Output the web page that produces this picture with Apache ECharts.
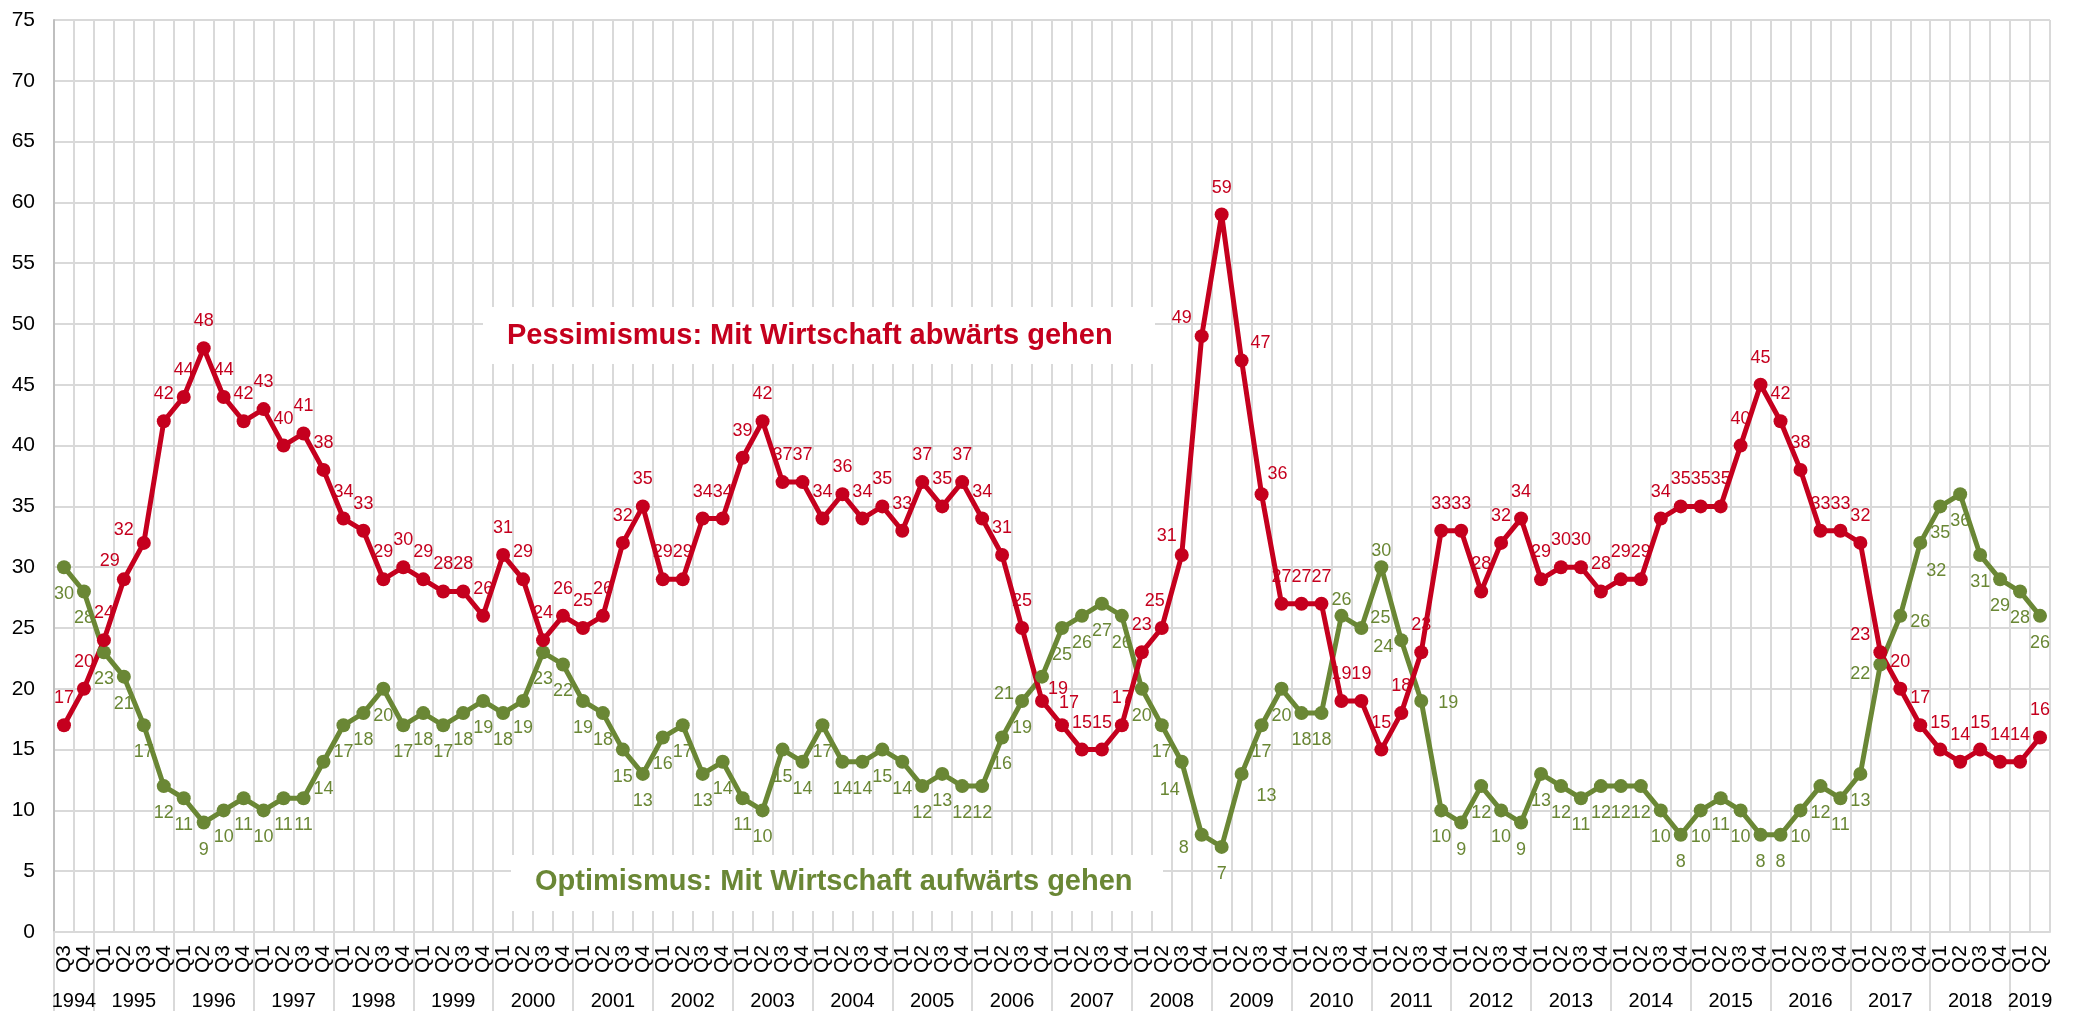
<!DOCTYPE html>
<html>
<head>
<meta charset="utf-8">
<script src="https://cdn.jsdelivr.net/npm/echarts@6/dist/echarts.min.js"></script>
<style>
  html, body { margin: 0; padding: 0; background: #fff; }
  #chart { width: 2075px; height: 1011px; }
</style>
</head>
<body>
<div id="chart"></div>
<script>
// ---- Data ----
const years = ['1994','1995','1996','1997','1998','1999','2000','2001','2002','2003','2004','2005','2006',
               '2007','2008','2009','2010','2011','2012','2013','2014','2015','2016','2017','2018','2019'];

const quarters = [
  'Q3','Q4',
  'Q1','Q2','Q3','Q4', 'Q1','Q2','Q3','Q4', 'Q1','Q2','Q3','Q4', 'Q1','Q2','Q3','Q4',
  'Q1','Q2','Q3','Q4', 'Q1','Q2','Q3','Q4', 'Q1','Q2','Q3','Q4', 'Q1','Q2','Q3','Q4',
  'Q1','Q2','Q3','Q4', 'Q1','Q2','Q3','Q4', 'Q1','Q2','Q3','Q4', 'Q1','Q2','Q3','Q4',
  'Q1','Q2','Q3','Q4', 'Q1','Q2','Q3','Q4', 'Q1','Q2','Q3','Q4', 'Q1','Q2','Q3','Q4',
  'Q1','Q2','Q3','Q4', 'Q1','Q2','Q3','Q4', 'Q1','Q2','Q3','Q4', 'Q1','Q2','Q3','Q4',
  'Q1','Q2','Q3','Q4', 'Q1','Q2','Q3','Q4', 'Q1','Q2','Q3','Q4', 'Q1','Q2','Q3','Q4',
  'Q1','Q2'
];

const pessimismus = [
  17,20,
  24,29,32,42, 44,48,44,42, 43,40,41,38, 34,33,29,30,
  29,28,28,26, 31,29,24,26, 25,26,32,35, 29,29,34,34,
  39,42,37,37, 34,36,34,35, 33,37,35,37, 34,31,25,19,
  17,15,15,17, 23,25,31,49, 59,47,36,27, 27,27,19,19,
  15,18,23,33, 33,28,32,34, 29,30,30,28, 29,29,34,35,
  35,35,40,45, 42,38,33,33, 32,23,20,17, 15,14,15,14,
  14,16
];

const optimismus = [
  30,28,
  23,21,17,12, 11,9,10,11, 10,11,11,14, 17,18,20,17,
  18,17,18,19, 18,19,23,22, 19,18,15,13, 16,17,13,14,
  11,10,15,14, 17,14,14,15, 14,12,13,12, 12,16,19,21,
  25,26,27,26, 20,17,14,8, 7,13,17,20, 18,18,26,25,
  30,24,19,10, 9,12,10,9, 13,12,11,12, 12,12,10,8,
  10,11,10,8, 8,10,12,11, 13,22,26,32, 35,36,31,29,
  28,26
];

const pessTitle = 'Pessimismus: Mit Wirtschaft abwärts gehen';
const optTitle  = 'Optimismus: Mit Wirtschaft aufwärts gehen';

// ---- Label placement tweaks (style only: point index -> [dx, dy] from marker centre) ----
const pessLabelShift = {
  3: [-14, -18], 4: [-20, -13], 49: [16, -12], 50: [7, -22], 55: [-7, -27],
  56: [-15, -19], 57: [-20, -18], 59: [19, -17], 60: [16, -20], 91: [-20, -17]
};
const optLabelShift = {
  49: [-38, 17], 56: [-12, 28], 57: [-18, 13], 59: [25, 22], 64: [0, -16],
  65: [19, -10], 66: [0, -16], 67: [-18, 7], 68: [27, 2], 91: [-20, 10],
  92: [20, 6], 93: [16, 28]
};

// ---- Derived: year grouping in quarter units ----
const yearSpans = [];
(function () {
  let start = 0;
  for (let i = 1; i <= quarters.length; i++) {
    if (i === quarters.length || quarters[i] === 'Q1') {
      yearSpans.push([start, i]);
      start = i;
    }
  }
})();
const yearBoundaries = yearSpans.map(s => s[0]);
const yearCenters = yearSpans.map(s => (s[0] + s[1]) / 2);

const RED = '#C5001E';
const GREEN = '#6A8735';
const GRID = '#d9d9d9';
const FONT = 'Liberation Sans, Arial, sans-serif';
const SYMBOL = 14;

const chart = echarts.init(document.getElementById('chart'), null, { renderer: 'canvas' });

function buildData(values, shifts) {
  return values.map(function (v, i) {
    const s = shifts[i];
    if (!s) return v;
    return {
      value: v,
      label: {
        position: [SYMBOL / 2 + s[0], SYMBOL / 2 + s[1]],
        align: 'center',
        verticalAlign: 'middle'
      }
    };
  });
}

function lineSeries(name, values, shifts, color, pos) {
  return {
    name: name,
    type: 'line',
    data: buildData(values, shifts),
    xAxisIndex: 0,
    yAxisIndex: 0,
    symbol: 'circle',
    symbolSize: SYMBOL,
    lineStyle: { color: color, width: 5 },
    itemStyle: { color: color },
    label: {
      show: true,
      position: pos,
      distance: 11,
      color: color,
      fontSize: 18,
      fontFamily: FONT
    },
    labelLayout: { hideOverlap: false },
    animation: false
  };
}

chart.setOption({
  animation: false,
  backgroundColor: '#fff',
  grid: { left: 54, right: 25, top: 20, bottom: 79, containLabel: false },
  xAxis: [
    {
      type: 'category',
      data: quarters,
      boundaryGap: true,
      position: 'bottom',
      axisLine: { show: true, lineStyle: { color: GRID, width: 2 } },
      axisTick: { show: false },
      axisLabel: {
        interval: 0,
        rotate: 90,
        fontSize: 21,
        color: '#000',
        fontFamily: FONT,
        margin: 13
      },
      splitLine: { show: true, interval: 0, lineStyle: { color: GRID, width: 2 } }
    },
    {
      type: 'value',
      min: 0,
      max: quarters.length,
      position: 'bottom',
      axisLine: { show: false },
      splitLine: { show: false },
      axisTick: {
        show: true,
        customValues: yearBoundaries,
        length: 80,
        lineStyle: { color: GRID, width: 2 }
      },
      axisLabel: {
        show: true,
        customValues: yearCenters,
        formatter: function (v) {
          const idx = yearCenters.indexOf(v);
          return idx >= 0 ? years[idx] : '';
        },
        fontSize: 20,
        color: '#000',
        fontFamily: FONT,
        margin: 59
      }
    }
  ],
  yAxis: {
    type: 'value',
    min: 0,
    max: 75,
    interval: 5,
    axisLine: { show: true, lineStyle: { color: '#bfbfbf', width: 2 } },
    axisTick: { show: false },
    axisLabel: { fontSize: 21, color: '#000', fontFamily: FONT, margin: 19 },
    splitLine: { show: true, lineStyle: { color: GRID, width: 2 } }
  },
  series: [
    lineSeries('Optimismus', optimismus, optLabelShift, GREEN, 'bottom'),
    lineSeries('Pessimismus', pessimismus, pessLabelShift, RED, 'top')
  ],
  graphic: [
    { type: 'rect', z: 50, shape: { x: 483, y: 307, width: 672, height: 57 }, style: { fill: '#fff' } },
    { type: 'text', z: 51, style: { text: pessTitle, x: 507, y: 336, fill: RED, font: 'bold 29px ' + FONT, verticalAlign: 'middle' } },
    { type: 'rect', z: 50, shape: { x: 511, y: 855, width: 652, height: 56 }, style: { fill: '#fff' } },
    { type: 'text', z: 51, style: { text: optTitle, x: 535, y: 882, fill: GREEN, font: 'bold 29px ' + FONT, verticalAlign: 'middle' } }
  ]
});
</script>
</body>
</html>
